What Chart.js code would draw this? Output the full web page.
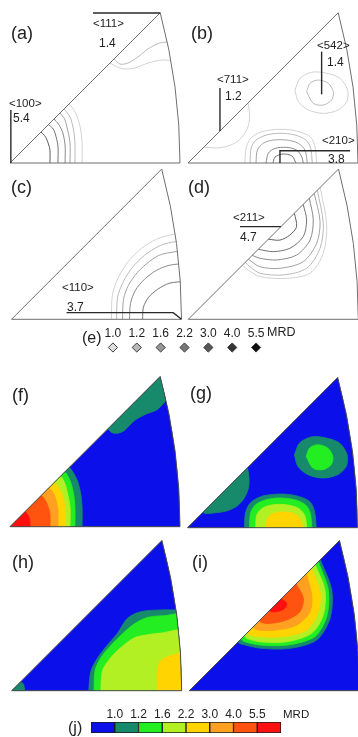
<!DOCTYPE html>
<html><head><meta charset="utf-8">
<script src="https://cdn.jsdelivr.net/npm/chart.js@4.4.0/dist/chart.umd.min.js"></script>
<style>
html,body{margin:0;padding:0;background:#fff;}
body{width:358px;height:737px;position:relative;overflow:hidden;font-family:'Liberation Sans',Arial,sans-serif;color:#222;}
canvas{position:absolute;}
.t{position:absolute;line-height:1;white-space:nowrap;}
</style></head><body>
<script>
// ================= DATA (stereographic IPF units: <001>-<101> edge = 100) =================
const LEVELS = ['1.0','1.2','1.6','2.2','3.0','4.0','5.5'];          // MRD contour levels
const BANDS  = ['<1.0','1.0-1.2','1.2-1.6','1.6-2.2','2.2-3.0','3.0-4.0','4.0-5.5','>5.5'];
const BAND_VALUE = [1,1,1,1,1,1,1,1];                                   // colour bar cells

const POLES_A = ['<111>','<100>'];          const MAX_A = ['1.4','5.4'];
const POLES_B = ['<711>','<542>','<210>'];  const MAX_B = ['1.2','1.4','3.8'];
const POLES_C = ['<110>'];                  const MAX_C = ['3.7'];
const POLES_D = ['<211>'];                  const MAX_D = ['4.7'];

// texture (a)/(f): contours around <100>, levels 1.0 ... 5.5
const A100 = [
  [[42.4,0],[42.4,11.8],[41.5,20],[39.4,27.6],[36.5,32.9],[34.7,34.7]],
  [[38.2,0],[38.2,11.8],[37.4,19.4],[35.3,27.1],[31.8,31.8]],
  [[35.3,0],[35.3,11.8],[33.5,21.2],[32.1,25.9],[29.4,29.4]],
  [[32.4,0],[32.4,10.6],[30.9,18.2],[28.5,22.9],[25.9,25.9]],
  [[28.2,0],[28.2,10],[26.5,17.6],[25,20.6],[22.6,22.6]],
  [[23.5,0],[23.5,7.6],[21.8,13.5],[20.3,16.2],[18.2,18.2]],
  [[11.8,0],[11.5,4.7],[10.3,7.1],[8.8,8.8]]
];
// texture (a): contours near <111>, levels 1.0, 1.2
const A111 = [
  [[58.8,58.8],[62.9,56.5],[67.6,55.3],[73.5,55.9],[81.2,58.8],[89.4,60.6],[97.1,60]],
  [[61.2,61.2],[64.7,58.2],[69.4,58.8],[75.3,62.4],[81.2,67.1],[88.2,70.6],[94.1,71.2]]
];
// texture (f): 1.0 region near <111>
const F111 = [[57.6,57.6],[60,55.3],[63.5,55],[67.1,56.5],[70.6,60],[74.7,63.5],[80.6,66.5],[86.5,68.8],[91.8,74.1],[97.1,79.4]];

// texture (b)/(g)
const B711 = [[35.3,35.3],[36.2,29.4],[35.9,23.5],[33.5,17.6],[29.4,12.9],[23.5,10],[16.5,8.8],[9.4,9.4]];
const B542 = [
  [[62.9,42.9],[65.9,49.8],[72.8,53.4],[81.6,52.8],[89.4,49.8],[93.9,42.9],[93.4,36.1],[88.4,31.2],[79.6,29.2],[70.8,31.2],[64.9,36.1],[62.9,42.9]],
  [[69.8,41.9],[71.8,46.9],[76.6,48.8],[82.5,46.9],[85.5,41.9],[84.5,37.1],[79.6,34.1],[73.7,35.1],[69.8,41.9]]
];
const B210 = [
  [[33.5,0],[34.1,8.6],[36.9,14.5],[43.4,18.4],[54.1,19.8],[63.9,18.8],[71.8,15.5],[74.7,9.6],[75.7,0]],
  [[36.5,0],[37.1,8.6],[40,13.5],[46.3,16.5],[54.1,17.5],[62.9,16.5],[69.4,13.5],[72.2,8.6],[73.1,0]],
  [[40,0],[40.8,7.6],[44.3,11.6],[50.2,13.5],[58.1,13.5],[64.9,11.6],[68.8,7.6],[70.2,0]],
  [[45.9,0],[47.2,5.7],[51.2,8.6],[58.1,9.2],[63.9,7.6],[66.9,3.7],[67.8,0]],
  [[50,0],[51.2,3.5],[55.9,5.3],[61.2,4.1],[63.5,0]]
];

// texture (c): contours around <110>
const C110 = [
  [[58.8,0],[59.4,14.7],[62.9,24.7],[68.8,34.1],[76.5,41.8],[85.3,47.1],[95.3,50],[102.9,50.6]],
  [[61.8,0],[62.4,12.9],[65.9,22.4],[71.2,30.6],[78.2,37.6],[86.5,42.9],[94.1,45.3],[102.9,45.9]],
  [[65.3,0],[65.9,11.8],[68.8,20],[74.1,27.6],[81.2,34.1],[88.2,38.2],[102.9,40.6]],
  [[69.4,0],[70,9.4],[72.9,17.1],[78.2,23.5],[85.3,28.8],[92.9,31.8],[102.9,32.9]],
  [[77.1,0],[77.6,7.1],[80.6,12.9],[85.9,17.6],[92.9,21.2],[102.9,22.4]]
];
// texture (h)
const H110 = [
  [[45.3,0],[46.5,11.2],[50.4,19.1],[56.3,26.9],[62.2,33.8],[68.1,42.6],[75.9,46.5],[87.6,47.5],[96.5,47.5],[102.9,47.6]],
  [[48.4,0],[49,11.8],[52.4,19.4],[58.2,26.5],[65.1,33.4],[71.9,39.2],[79.8,43.1],[89.6,44.1],[102.9,44.1]],
  [[52.4,0],[53.4,11.8],[58.2,19.4],[64.1,25.3],[71.9,31],[79.8,32.9],[87.6,33.9],[102.9,34.7]],
  [[85.7,0],[85.7,11.8],[87.6,17.6],[93.5,20.6],[102.9,21.8]]
];
const H100 = [[7.6,0],[7.1,3.5],[5.3,5.3]];

// texture (d): contours around <211>
const D211 = [
  [[77.6,77.6],[81.4,55.5],[79.4,38.8],[71.6,27.1],[57.8,24.1],[42.2,25.1],[35.3,29],[31.8,31.8]],
  [[75.9,75.9],[79.4,56.5],[77.5,41.8],[69.6,30],[55.9,26.1],[42.2,27.1],[36.3,30.9],[33.5,33.5]],
  [[74.1,74.1],[77.5,57.4],[75.5,44.7],[67.6,33.9],[53.9,30],[42.2,30.9],[35.3,35.3]],
  [[71.2,71.2],[73.5,58.4],[71.6,46.6],[63.7,37.8],[51.9,34.9],[42.2,35.9],[37.6,37.6]],
  [[67.6,67.6],[69.6,58.4],[67.6,48.6],[59.8,41.8],[50,39.8],[41.2,41.2]],
  [[62.4,62.4],[63.7,54.5],[59.8,49.6],[53.9,46.6],[47.1,47.1]]
];
// texture (i)
const I211 = [
  [[77.1,77.1],[83.8,59.2],[82.8,42.6],[74.9,29.8],[59.2,24.9],[42.6,24.9],[32.8,26.9],[28.8,28.8]],
  [[75.9,75.9],[81.8,59.2],[80.8,43.5],[73.9,31.8],[58.2,26.9],[41.6,26.9],[32.8,28.8],[30.6,30.6]],
  [[74.1,74.1],[79.8,59.2],[78.8,44.5],[72,33.8],[57.3,28.8],[41.6,28.8],[33.8,30.8],[32.4,32.4]],
  [[71.8,71.8],[76.9,58.2],[75.9,46.5],[69.1,35.7],[55.3,31.8],[41.6,31.8],[34.1,34.1]],
  [[68.8,68.8],[72,56.3],[71,46.5],[63.2,38.6],[51.4,35.7],[40.6,35.7],[37.6,37.6]],
  [[62.9,62.9],[67.1,54.4],[65.1,46.5],[57.3,41.6],[47.5,39.6],[41.2,41.2]],
  [[54.1,54.1],[57.3,51.4],[56.3,48.5],[51.4,46.5],[47.1,47.1]]
];

// ================= STYLE / LAYOUT =================
const PX = 1.7;   // pixels per projection unit
const LINE_GRAY  = ['#d2d2d2','#bababa','#a2a2a2','#8a8a8a','#747474','#5e5e5e','#484848'];
const MARK_GRAY  = ['#dedede','#b9b9b9','#979797','#777777','#565656','#333333','#0e0e0e'];
const BAND_COLOR = ['#0b0fe9','#178a6c','#22ee22','#b2f024','#ffd400','#ffa020','#ff5410','#ff1010'];
const LAYOUT = {
  a:{ox:10,oy:163}, b:{ox:188,oy:163}, c:{ox:11.5,oy:319.3}, d:{ox:188.3,oy:319.3},
  f:{ox:10,oy:526.7}, g:{ox:187.5,oy:527.7}, h:{ox:11.7,oy:690.7}, i:{ox:189.3,oy:690.7}
};
const CIRCLE_C = -241.42, CIRCLE_R = 341.42, APEX = 88.39;

function closeShape(pts, mode){
  const p = pts.slice(), x0 = pts[0][0], xn = pts[pts.length-1][0];
  if (mode==='origin') p.push([-6,6],[-6,-6],[x0,-6]);
  else if (mode==='base') p.push([xn,-6],[x0,-6]);
  else if (mode==='corner') p.push([108,-6],[x0,-6]);
  else if (mode==='diag') p.push([24,82]);
  else if (mode==='apex') p.push([104,104],[50,72]);
  p.push(pts[0]);
  return p;
}

const PANELS = [
  {id:'a', lines:[...A100.slice(0,6).map((c,k)=>({pts:c,lvl:k})), {pts:A111[0],lvl:0}, {pts:A111[1],lvl:1}],
   leaders:[[[48.8,88.2],[APEX,88.2]], [[0.5,31.2],[0.5,0]]]},
  {id:'b', lines:[{pts:B711,lvl:0},{pts:B542[0],lvl:0},{pts:B542[1],lvl:1}, ...B210.map((c,k)=>({pts:c,lvl:k}))],
   leaders:[[[18.8,44.1],[18.8,18.8]], [[78.6,65.5],[78.6,40.4]], [[95.3,7.2],[54.1,7.2],[54.1,0]]]},
  {id:'c', lines:C110.map((c,k)=>({pts:c,lvl:k})), leaders:[[[32.4,3.9],[95.1,3.9],[100,0]]]},
  {id:'d', lines:D211.map((c,k)=>({pts:c,lvl:k})), leaders:[[[30.4,54.5],[54.5,54.5]]]},
  {id:'f', fills:[...A100.map((c,k)=>({pts:c,lvl:k,close:'origin'})), {pts:F111,lvl:0,close:'apex'}]},
  {id:'g', fills:[{pts:B711,lvl:0,close:'diag'},{pts:B542[0],lvl:0,close:'none'},{pts:B542[1],lvl:1,close:'none'},
                  ...B210.slice(0,4).map((c,k)=>({pts:c,lvl:k,close:'base'}))]},
  {id:'h', fills:[{pts:H100,lvl:0,close:'origin'}, ...H110.map((c,k)=>({pts:c,lvl:k,close:'corner'}))]},
  {id:'i', fills:I211.map((c,k)=>({pts:c,lvl:k,close:'diag'}))}
];

function trianglePath(chart){
  const {ctx, scales:{x,y}} = chart;
  const P = (a,b)=>[x.getPixelForValue(a), y.getPixelForValue(b)];
  const o = P(0,0), r = P(100,0), c = P(CIRCLE_C,0);
  const rad = x.getPixelForValue(CIRCLE_C+CIRCLE_R) - c[0];
  const ang = Math.atan2(APEX, APEX-CIRCLE_C);
  ctx.beginPath();
  ctx.moveTo(o[0],o[1]);
  ctx.lineTo(r[0],r[1]);
  ctx.arc(c[0],c[1],rad,0,-ang,true);
  ctx.closePath();
}

const ipfPlugin = {
  id:'ipf',
  beforeDatasetsDraw(chart, args, opts){
    const ctx = chart.ctx;
    ctx.save();
    trianglePath(chart);
    if (opts.bg){ ctx.fillStyle = opts.bg; ctx.fill(); }
    ctx.clip();
  },
  afterDatasetsDraw(chart, args, opts){
    const {ctx, scales:{x,y}} = chart;
    ctx.restore();
    ctx.save();
    trianglePath(chart);
    ctx.strokeStyle = opts.frame; ctx.lineWidth = 1; ctx.stroke();
    ctx.strokeStyle = '#2a2a2a'; ctx.lineWidth = 1.4;
    (opts.leaders||[]).forEach(l=>{
      ctx.beginPath();
      l.forEach((p,i)=>{ const px=x.getPixelForValue(p[0]), py=y.getPixelForValue(p[1]); i?ctx.lineTo(px,py):ctx.moveTo(px,py); });
      ctx.stroke();
    });
    ctx.restore();
  }
};

function makeCanvas(left, top, w, h){
  const cv = document.createElement('canvas');
  cv.width = w; cv.height = h;
  cv.style.left = left+'px'; cv.style.top = top+'px';
  cv.style.width = w+'px'; cv.style.height = h+'px';
  document.body.appendChild(cv);
  return cv;
}
const toXY = pts => pts.map(p=>({x:p[0], y:p[1]}));
const baseOpts = {responsive:false, animation:false, events:[], devicePixelRatio:1,
  plugins:{legend:{display:false}, tooltip:{enabled:false}}, layout:{padding:0, autoPadding:false}};

PANELS.forEach(pn=>{
  const L = LAYOUT[pn.id];
  const W = 190, H = 168;
  const left = Math.round(L.ox-10), top = Math.round(L.oy-162);
  const padL = L.ox-left, padT = L.oy-top;
  const cv = makeCanvas(left, top, W, H);
  const datasets = [];
  (pn.lines||[]).forEach(ln=>datasets.push({
    data:toXY(ln.pts), borderColor:LINE_GRAY[ln.lvl], borderWidth:1, pointRadius:0, fill:false, tension:0.3
  }));
  (pn.fills||[]).forEach(fl=>{
    const col = BAND_COLOR[fl.lvl+1];
    datasets.push({
      data:toXY(fl.close==='none'?fl.pts:closeShape(fl.pts, fl.close)), borderColor:col, backgroundColor:col,
      borderWidth:0.8, pointRadius:0, fill:'shape', tension:0.3, order:100-fl.lvl
    });
  });
  new Chart(cv, {
    type:'line',
    data:{datasets},
    options:{...baseOpts,
      elements:{line:{capBezierPoints:false}},
      plugins:{...baseOpts.plugins,
        ipf:{bg: pn.fills ? BAND_COLOR[0] : null, frame: pn.fills ? '#4a4a4a' : '#6e6e6e', leaders: pn.leaders||[]}},
      scales:{
        x:{type:'linear', display:false, min:-padL/PX, max:(W-padL)/PX},
        y:{type:'linear', display:false, min:-(H-padT)/PX, max:padT/PX}
      }
    },
    plugins:[ipfPlugin]
  });
});

// ---- legend (e): grey markers ----
{
  const cv = makeCanvas(101, 341, 167, 13);
  new Chart(cv, {
    type:'scatter',
    data:{datasets:[{data:LEVELS.map((l,i)=>({x:i,y:0})), pointStyle:'rectRot', pointRadius:4.6, clip:false,
      pointBackgroundColor:MARK_GRAY, pointBorderColor:'#3a3a3a', pointBorderWidth:1}]},
    options:{...baseOpts, scales:{x:{display:false,min:-0.5,max:6.5}, y:{display:false,min:-1,max:1}}}
  });
}
// ---- colour bar (j) ----
{
  const cv = makeCanvas(91, 722, 190, 11);
  new Chart(cv, {
    type:'bar',
    data:{labels:BANDS, datasets:[{data:BAND_VALUE, backgroundColor:BAND_COLOR, borderColor:'#1c1c1c',
      borderWidth:1, borderSkipped:false, barPercentage:1, categoryPercentage:1}]},
    options:{...baseOpts, scales:{x:{display:false}, y:{display:false,min:0,max:1}}}
  });
}

// ================= TEXT =================
function txt(s, x, base, size, center){
  const d = document.createElement('div');
  d.className = 't'; d.textContent = s;
  d.style.fontSize = size+'px';
  d.style.top = (base - 0.847*size)+'px';
  d.style.left = x+'px';
  if (center) d.style.transform = 'translateX(-50%)';
  document.body.appendChild(d);
}
const LETTER_POS = {a:[11,39.3],b:[191,39.3],c:[11,193.3],d:[188,193.3],f:[12,401],g:[190,399.3],h:[12,568],i:[192,568]};
Object.keys(LETTER_POS).forEach(k=>txt('('+k+')', LETTER_POS[k][0], LETTER_POS[k][1], 18));

const POLE_POS = {
  A:[[93,28,99,47],[9,108,13,122]],
  B:[[217,83.5,225,100],[317,50,327,66.5],[322,145,328,163]],
  C:[[62,292,67,311.5]],
  D:[[233,222,240,241.5]]
};
[[POLES_A,MAX_A,'A'],[POLES_B,MAX_B,'B'],[POLES_C,MAX_C,'C'],[POLES_D,MAX_D,'D']].forEach(([P,M,k])=>{
  P.forEach((s,i)=>{ const q = POLE_POS[k][i]; txt(s,q[0],q[1],11.5); txt(M[i],q[2],q[3],12); });
});

// legend (e)
txt('(e)', 82, 343.8, 16);
LEVELS.forEach((s,i)=>txt(s, 112.9+23.86*i, 337, 12, true));
txt('MRD', 267, 337, 12.5);
// legend (j)
txt('(j)', 68, 733.3, 16);
LEVELS.forEach((s,i)=>txt(s, 114.75+23.75*i, 718.3, 12, true));
txt('MRD', 283, 718.3, 11.5);
</script>
</body></html>
